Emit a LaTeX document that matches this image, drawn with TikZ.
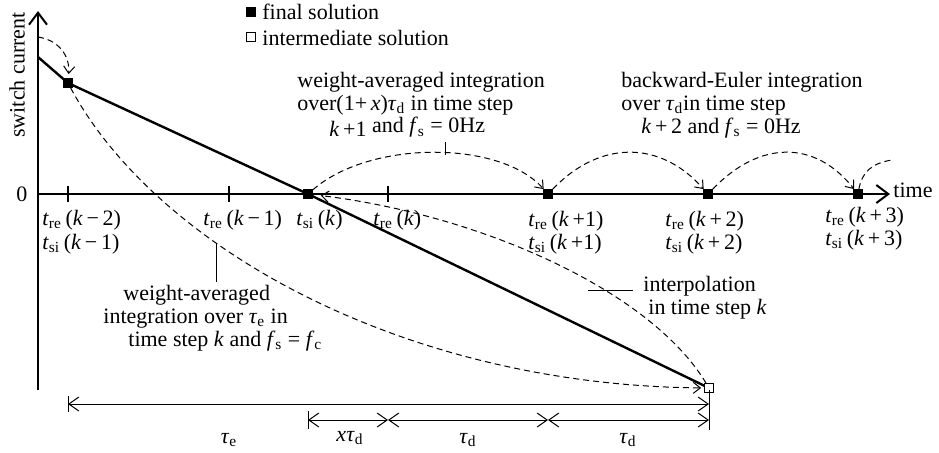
\documentclass[tikz,border=0pt]{standalone}
\usepackage{fontspec}
\setmainfont{Liberation Serif}
\usepackage{tikz}
\usetikzlibrary{arrows.meta}
\tikzset{
  fsol/.style={draw, fill=black, minimum size=4.5pt, inner sep=0pt},
  isol/.style={draw, fill=white, minimum size=4.5pt, inner sep=0pt, line width=0.4pt},
  axisline/.style={line width=1pt},
  curline/.style={line width=1.2pt},
  dcurve/.style={line width=0.5pt, dash pattern=on 3pt off 2pt, -{Straight Barb[length=3.5pt,width=5.5pt]}},
  dimline/.style={line width=0.5pt, {Straight Barb[length=5pt,width=7pt]}-{Straight Barb[length=5pt,width=7pt]}},
  leader/.style={line width=0.5pt},
  lbl/.style={inner sep=0pt},
}
\newcommand{\tre}[1]{\textit{t}\textsubscript{re}\,(#1)}
\newcommand{\tsi}[1]{\textit{t}\textsubscript{si}\,(#1)}
\newcommand{\kk}[2]{\textit{k}\,#1\,#2}
\newcommand{\taud}{\textit{τ}\textsubscript{d}}
\newcommand{\taue}{\textit{τ}\textsubscript{e}}
\newcommand{\fs}{\textit{f}\textsubscript{s}}
\begin{document}
\begin{tikzpicture}[x=0.5pt, y=-0.5pt, font=\fontsize{11}{11.5}\selectfont, >=Stealth]
  \useasboundingbox (0,0) rectangle (939,452);
  % axes
  \coordinate (O) at (38,194);
  \coordinate (ytop) at (38,11);
  \coordinate (ybot) at (38,390);
  \coordinate (xend) at (890,194);
  \draw[axisline, -{Straight Barb[length=6pt,width=9pt]}] (ybot) -- (ytop);
  \draw[axisline, -{Straight Barb[length=6pt,width=9pt]}] (O) -- (xend);
  \node[lbl] (zero) at (22,194) {0};
  \node[lbl, rotate=90] (ylab) at (17,75) {switch current};
  \node[lbl, anchor=west] (xlab) at (893,190) {time};
  \foreach \x in {68,229,388} \draw[axisline] (\x,186) -- (\x,202);

  % solution points
  \coordinate (ystart) at (38,57);
  \coordinate (p1) at (68,83);
  \coordinate (p2) at (308,194);
  \coordinate (pi) at (709,388);
  \draw[curline] (ystart) -- (p1) -- (p2) -- (pi);
  \node[fsol] (fs1) at (p1) {};
  \node[fsol] (fs2) at (p2) {};
  \node[fsol] (fs3) at (548,194) {};
  \node[fsol] (fs4) at (708,194) {};
  \node[fsol] (fs5) at (858,194) {};
  \node[isol] (is) at (pi) {};

  % dashed curves
  \coordinate (yhi) at (38,37);
  \coordinate (arcend) at (892,160);
  \draw[dcurve, shorten >=2pt] (yhi) .. controls (58,40) and (70,55) .. (fs1);
  \draw[dcurve, shorten >=1.5pt] (fs1) .. controls (155,245) and (400,385) .. (is);
  \draw[dcurve, shorten >=4pt] (is) .. controls (650,290) and (480,215) .. (fs2);
  \draw[dcurve] (fs2) .. controls (370,140) and (500,140) .. (fs3);
  \draw[dcurve] (fs3) .. controls (600,140) and (660,140) .. (fs4);
  \draw[dcurve] (fs4) .. controls (760,140) and (815,140) .. (fs5);
  \draw[line width=0.5pt, dash pattern=on 3pt off 2pt] (fs5) .. controls (862,172) and (872,163) .. (arcend);

  % time labels
  \node[lbl, anchor=west] (l1a) at (42,220) {\tre{\kk{−}{2}}};
  \node[lbl, anchor=west] (l1b) at (42,244) {\tsi{\kk{−}{1}}};
  \node[lbl, anchor=west] (l2) at (203,220) {\tre{\kk{−}{1}}};
  \node[lbl, anchor=west] (l3) at (296,220) {\tsi{\textit{k}}};
  \node[lbl, anchor=west] (l4) at (373,220) {\tre{\textit{k}}};
  \node[lbl, anchor=west] (l5a) at (528,221) {\tre{\textit{k}\,+1}};
  \node[lbl, anchor=west] (l5b) at (528,244) {\tsi{\textit{k}\,+1}};
  \node[lbl, anchor=west] (l6a) at (665,221) {\tre{\textit{k}\,+\,2}};
  \node[lbl, anchor=west] (l6b) at (665,244) {\tsi{\textit{k}\,+\,2}};
  \node[lbl, anchor=west] (l7a) at (825,217) {\tre{\textit{k}\,+\,3}};
  \node[lbl, anchor=west] (l7b) at (825,240) {\tsi{\textit{k}\,+\,3}};

  % legend
  \node[fsol] (leg1) at (251,12) {};
  \node[lbl, anchor=west] (leg1t) at (262,12) {final solution};
  \node[isol] (leg2) at (251,37) {};
  \node[lbl, anchor=west] (leg2t) at (262,38) {intermediate solution};

  % annotations
  \node[lbl, anchor=west, align=left] (wlab) at (297,105)
    {weight-averaged integration\\over(1+\,\textit{x})\taud{} in time step\\
     \hspace*{16pt}\textit{k}\,+1 \raisebox{2pt}{and \fs{} = 0Hz}};
  \coordinate (pk) at (445,155);
  \coordinate (pkt) at (445,142);
  \draw[leader] (pk) -- (pkt);
  \node[lbl, anchor=west, align=left] (blab) at (621,105)
    {backward-Euler integration\\over \taud in time step\\
     \hspace*{10pt}\textit{k}\,+\,2 and \fs{} = 0Hz};
  \node[lbl, anchor=west, align=left] (elab) at (103,318)
    {\hspace*{10pt}weight-averaged\\integration over \taue{} in\\
     \hspace*{12.5pt}time step \textit{k} and \fs{} = \textit{f}\textsubscript{c}};
  \coordinate (ea) at (216,243);
  \coordinate (eb) at (216,282);
  \draw[leader] (ea) -- (eb);
  \node[lbl, anchor=west, align=left] (ilab) at (643,298)
    {interpolation\\\hspace*{2.5pt}in time step \textit{k}};
  \coordinate (ia) at (588,290);
  \coordinate (ib) at (633,290);
  \draw[leader] (ia) -- (ib);

  % dimensions
  \coordinate (d0) at (68,404);
  \coordinate (d1) at (709,404);
  \coordinate (e0) at (308,420);
  \coordinate (e1) at (388,420);
  \coordinate (e2) at (548,420);
  \coordinate (e3) at (709,420);
  \draw[leader] (68,396) -- (68,412);
  \draw[leader] (709,390) -- (709,430);
  \draw[leader] (308,411) -- (308,429);
  \draw[dimline] (d0) -- (d1);
  \draw[dimline] (e0) -- (e1);
  \draw[dimline] (e1) -- (e2);
  \draw[dimline] (e2) -- (e3);
  \node[lbl] (te) at (229,440) {\taue};
  \node[lbl] (xtd) at (350,438) {\textit{x}\taud};
  \node[lbl] (td1) at (468,440) {\taud};
  \node[lbl] (td2) at (628,440) {\taud};
\end{tikzpicture}
\end{document}
